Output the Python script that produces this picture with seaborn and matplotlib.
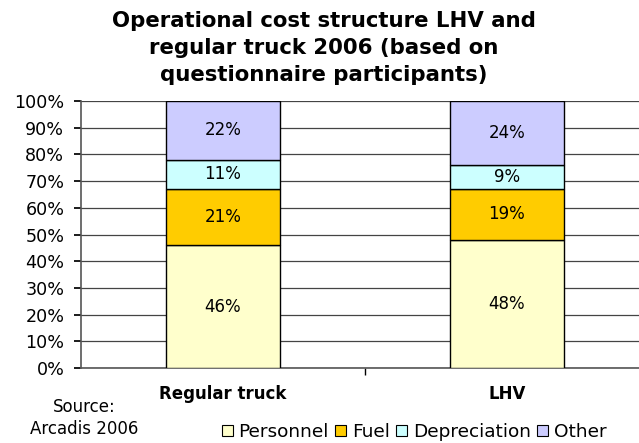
import matplotlib
matplotlib.use("Agg")
import matplotlib.pyplot as plt
import seaborn as sns
import pandas as pd
import numpy as np
from matplotlib.patches import Patch

categories = ["Regular truck", "LHV"]
components = ["Personnel", "Fuel", "Depreciation", "Other"]
personnel = [46, 48]
fuel = [21, 19]
depreciation = [11, 9]
other = [22, 24]
colors = ["#FFFFCC", "#FFCC00", "#CCFFFF", "#CCCCFF"]
yticks = [0, 10, 20, 30, 40, 50, 60, 70, 80, 90, 100]

sns.set_theme(style="white")
plt.rcParams['font.family'] = ['DejaVu Sans']
plt.rcParams['text.color'] = 'black'
plt.rcParams['xtick.color'] = 'black'
plt.rcParams['ytick.color'] = 'black'

fig = plt.figure(figsize=(6.39, 4.43), dpi=100)
W, H = 639, 443
ax = fig.add_axes([81 / W, 1 - 368 / H, (649 - 81) / W, (368 - 101) / H])

series = [personnel, fuel, depreciation, other]
bottom = np.zeros(len(categories))
for name, vals, col in zip(components, series, colors):
    df = pd.DataFrame({"cat": categories, "val": vals})
    sns.barplot(data=df, x="cat", y="val", color=col, width=0.40,
                bottom=bottom, ax=ax, edgecolor="black", linewidth=1,
                saturation=1, zorder=3)
    for i, v in enumerate(vals):
        ax.text(i, bottom[i] + v / 2, f"{v}%", ha="center", va="center",
                fontsize=12, color="black", zorder=4)
    bottom = bottom + np.array(vals)

ax.set_ylim(0, 100)
ax.set_xlim(-0.5, 1.5)
ax.set_yticks(yticks)
ax.set_yticklabels([f"{t}%" for t in yticks], fontsize=12.6)
ax.yaxis.grid(True, color="#444444", linewidth=0.9, zorder=0)
ax.set_axisbelow(True)
ax.set_xticks([0, 1])
ax.set_xticklabels(categories, fontsize=12, fontweight="bold")
ax.set_xticks([0.5], minor=True)
ax.tick_params(axis="x", which="major", length=0, pad=12)
ax.tick_params(axis="x", which="minor", length=5, color="black", direction="out", bottom=True)
ax.tick_params(axis="y", length=5, color="black", direction="out", left=True, pad=7)
ax.set_xlabel("")
ax.set_ylabel("")
for s in ["top", "right"]:
    ax.spines[s].set_visible(False)
for s in ["left", "bottom"]:
    ax.spines[s].set_color("#555555")
    ax.spines[s].set_linewidth(1.2)

fig.text(324 / W, 1 - 48 / H,
         "Operational cost structure LHV and\nregular truck 2006 (based on\nquestionnaire participants)",
         ha="center", va="center", fontsize=15.3, fontweight="bold", linespacing=1.42)

fig.text(84 / W, 1 - 418 / H, "Source:\nArcadis 2006", ha="center", va="center",
         fontsize=12, linespacing=1.35)

handles = [Patch(facecolor=c, edgecolor="black", linewidth=0.8) for c in colors]
fig.legend(handles, components, loc="center", bbox_to_anchor=(414 / W, 1 - 432 / H),
           ncol=4, frameon=False, fontsize=13.3, handlelength=0.6, handleheight=0.6,
           handletextpad=0.3, columnspacing=0.35, borderpad=0)

fig.savefig("out.png", dpi=100)
